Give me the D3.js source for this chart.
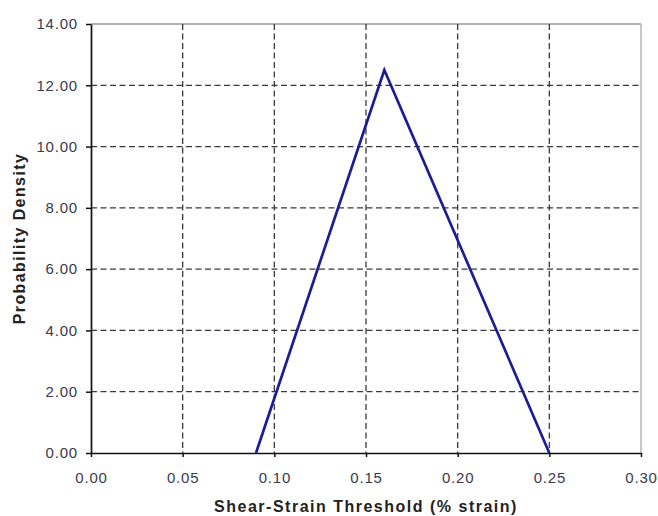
<!DOCTYPE html>
<html>
<head>
<meta charset="utf-8">
<script src="https://cdn.jsdelivr.net/npm/d3@7/dist/d3.min.js"></script>
<style>
  html, body { margin: 0; padding: 0; background: #fff; }
  svg { display: block; }
  text { font-family: "Liberation Sans", Arial, sans-serif; }
</style>
</head>
<body>
<svg id="chart" width="658" height="516"></svg>
<script>
// Triangular probability density of the shear-strain threshold
const strainPoints = [0.09, 0.16, 0.25];
const densityPoints = [0.0, 12.5, 0.0];
const xTicks = [0.00, 0.05, 0.10, 0.15, 0.20, 0.25, 0.30];
const yTicks = [0, 2, 4, 6, 8, 10, 12, 14];
const xTitle = "Shear-Strain Threshold (% strain)";
const yTitle = "Probability Density";

const svg = d3.select("#chart");
const margin = { left: 91, top: 24, right: 17, bottom: 63 };
const W = 658, H = 516;
const x = d3.scaleLinear().domain([0, 0.30]).range([margin.left, W - margin.right]);
const y = d3.scaleLinear().domain([0, 14]).range([H - margin.bottom, margin.top]);

const x0 = x.range()[0], x1 = x.range()[1];
const y0 = y.range()[0], y1 = y.range()[1];

// frame: light top/right edges
svg.append("line").attr("x1", x0).attr("x2", x1).attr("y1", y1).attr("y2", y1)
  .attr("stroke", "#999").attr("stroke-width", 1.3);
svg.append("line").attr("x1", x1).attr("x2", x1).attr("y1", y1).attr("y2", y0)
  .attr("stroke", "#bbb").attr("stroke-width", 1.6);

// dashed grid
const grid = svg.append("g");
grid.selectAll(".vg").data(xTicks.filter(t => t > 0 && t < 0.3)).join("line")
  .attr("x1", d => x(d)).attr("x2", d => x(d)).attr("y1", y1).attr("y2", y0)
  .attr("stroke", "#3a3a3a").attr("stroke-width", 1.3).attr("stroke-dasharray", "6,3.5");
grid.selectAll(".hg").data(yTicks.filter(t => t > 0 && t < 14)).join("line")
  .attr("x1", x0).attr("x2", x1).attr("y1", d => y(d)).attr("y2", d => y(d))
  .attr("stroke", "#3a3a3a").attr("stroke-width", 1.3).attr("stroke-dasharray", "6,3.5");

// axes
const xAxis = d3.axisBottom(x).tickValues(xTicks).tickFormat(d3.format(".2f"))
  .tickSizeInner(4).tickSizeOuter(0).tickPadding(15);
const yAxis = d3.axisLeft(y).tickValues(yTicks).tickFormat(d3.format(".2f"))
  .tickSizeInner(5).tickSizeOuter(0).tickPadding(8);

const gx = svg.append("g").attr("transform", `translate(0,${y0})`).call(xAxis);
const gy = svg.append("g").attr("transform", `translate(${x0},0)`).call(yAxis);
[gx, gy].forEach(g => {
  g.select(".domain").attr("stroke", "#111").attr("stroke-width", 1.7);
  g.selectAll(".tick line").attr("stroke", "#111").attr("stroke-width", 1.5);
  g.selectAll(".tick text").attr("fill", "#3a3a4a").style("font-size", "15px")
    .style("letter-spacing", "0.8px")
    .style("font-family", "'Liberation Sans', Arial, sans-serif");
});

// density line
const line = d3.line().x(d => x(d[0])).y(d => y(d[1]));
svg.append("path")
  .datum(d3.zip(strainPoints, densityPoints))
  .attr("d", line)
  .attr("fill", "none")
  .attr("stroke", "#1c1c96")
  .attr("stroke-width", 2.7)
  .attr("stroke-linejoin", "miter");

// axis titles
svg.append("text")
  .attr("x", (x0 + x1) / 2).attr("y", 512)
  .attr("text-anchor", "middle")
  .style("font-size", "16px").style("font-weight", "bold")
  .style("letter-spacing", "1.5px").attr("fill", "#222")
  .text(xTitle);
svg.append("text")
  .attr("transform", `translate(25,${(y0 + y1) / 2}) rotate(-90)`)
  .attr("text-anchor", "middle")
  .style("font-size", "16px").style("font-weight", "bold")
  .style("letter-spacing", "1.4px").attr("fill", "#222")
  .text(yTitle);
</script>
</body>
</html>
